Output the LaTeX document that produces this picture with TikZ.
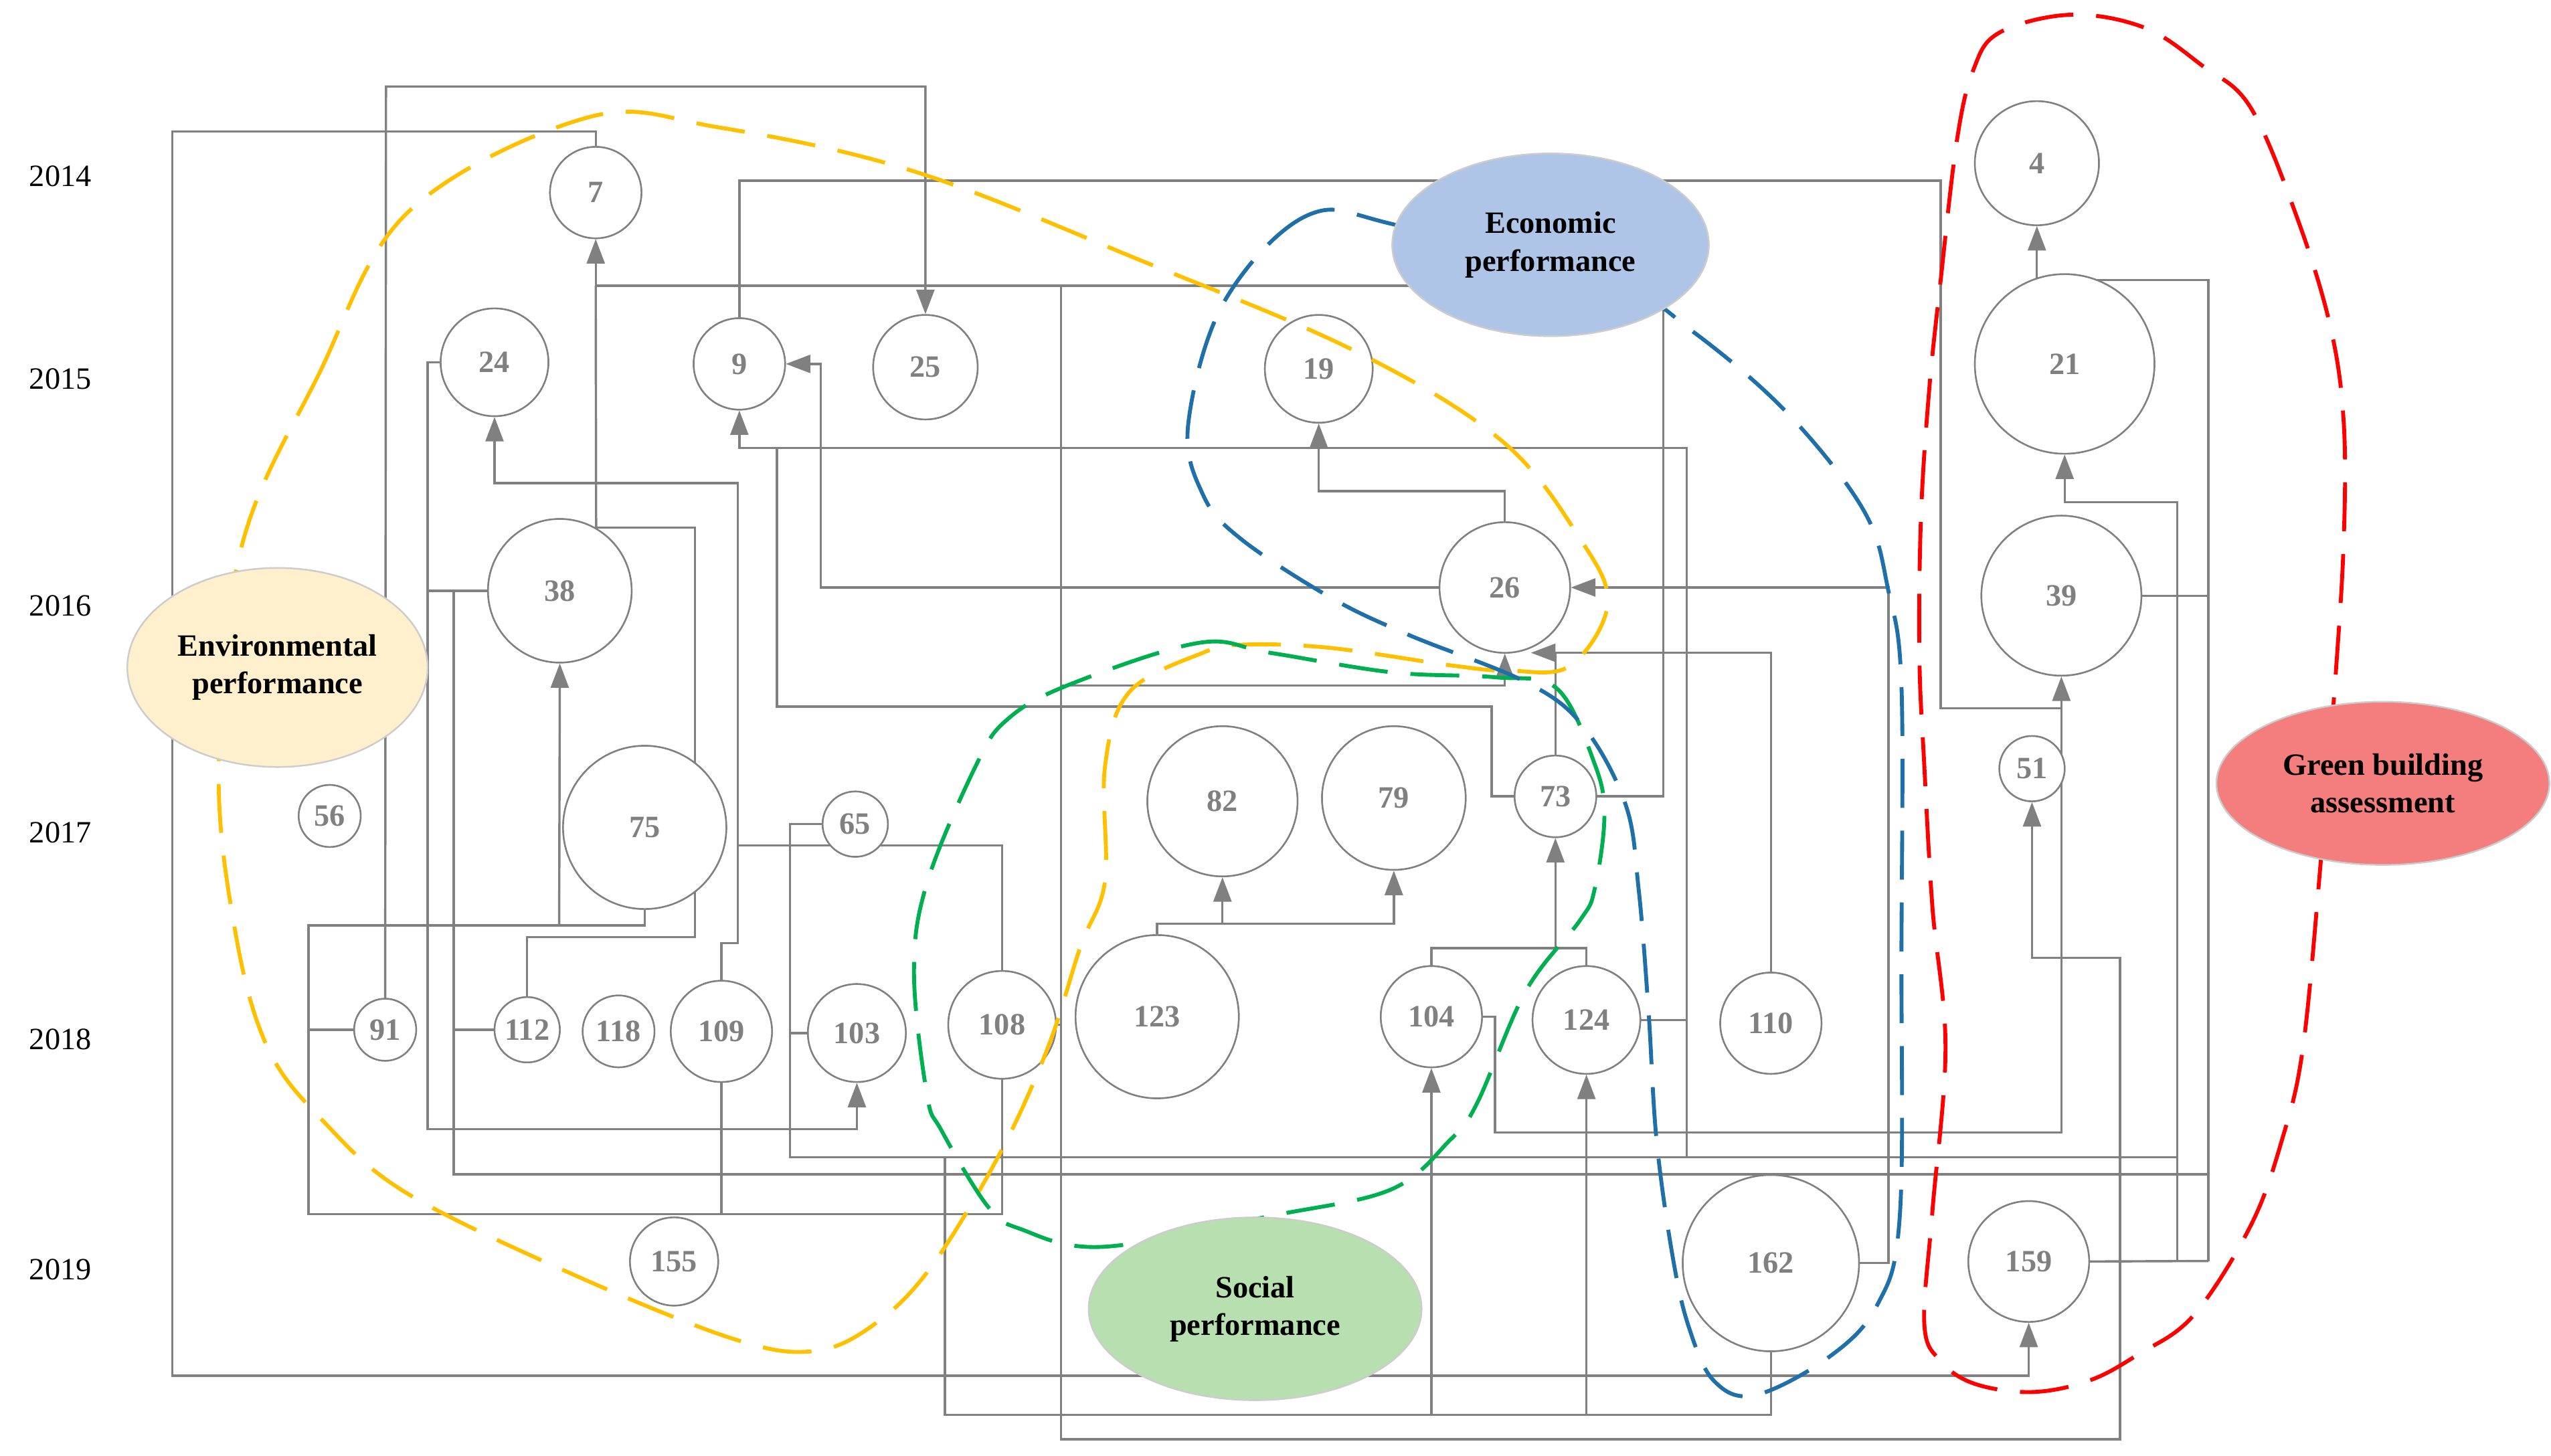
\documentclass[tikz,border=0pt]{standalone}
\usepackage{fontspec}
\setmainfont{Liberation Serif}
\usetikzlibrary{arrows.meta,shapes.geometric}
\definecolor{lg}{HTML}{808080}
\definecolor{yel}{HTML}{FFC000}
\definecolor{grn}{HTML}{00B050}
\definecolor{blu}{HTML}{1F6FA8}
\definecolor{rd}{HTML}{FF0000}
\begin{document}
\begin{tikzpicture}[x=1pt,y=-1pt,
  ln/.style={draw=lg,line width=1.4pt},
  arr/.style={-{Triangle[length=15pt,width=11pt]}},
  nd/.style={ellipse,draw=lg,line width=1pt,fill=white,inner sep=0pt,text=lg,font=\fontsize{19}{19}\selectfont\bfseries},
  yr/.style={font=\fontsize{19}{19}\selectfont},
  cat/.style={ellipse,draw=black!20,line width=1pt,inner sep=0pt,align=center,font=\fontsize{19}{23}\selectfont\bfseries},
  dsh/.style={line width=2.4pt,dash pattern=on 30pt off 14pt}]
\useasboundingbox (0,0) rectangle (1563,892);
% years
\node[yr] (y14) at (37,108) {2014};
\node[yr] (y15) at (37,232) {2015};
\node[yr] (y16) at (37,371) {2016};
\node[yr] (y17) at (37,510) {2017};
\node[yr] (y18) at (37,637) {2018};
\node[yr] (y19) at (37,778) {2019};
% nodes
\def\N#1#2#3#4{\node[nd,minimum width=#4*2pt,minimum height=#4*2pt] (n#1) at (#2,#3) {#1};}
\N{7}{365}{118}{28}
\N{24}{303}{222}{33}
\N{9}{453}{223}{28}
\N{25}{567}{225}{32}
\N{19}{808}{226}{33}
\N{4}{1248}{100}{38}
\N{21}{1265}{223}{55}
\N{38}{343}{362}{44}
\N{26}{922}{360}{40}
\N{39}{1263}{365}{49}
\N{75}{395}{507}{50}
\N{65}{524}{505}{20}
\N{56}{202}{500}{19}
\N{82}{749}{491}{46}
\N{79}{854}{489}{44}
\N{73}{953}{488}{25}
\N{51}{1245}{471}{20}
\N{91}{236}{631}{19}
\N{112}{323}{631}{20}
\N{118}{379}{632}{22}
\N{109}{442}{632}{31}
\N{103}{525}{633}{30}
\N{108}{614}{628}{33}
\N{123}{709}{623}{50}
\N{104}{877}{623}{31}
\N{124}{972}{625}{33}
\N{110}{1085}{627}{31}
\N{155}{413}{773}{27}
\N{162}{1085}{774}{54}
\N{159}{1243}{773}{37}
% connectors
\begin{scope}[on background layer/.style={}]
\draw[ln,arr] (n91.north) -- (236.5,53) -| (n25.north);
\draw[ln,arr] (n7.north) |- (105.6,80.5) |- (1243,843) -- (n159.south);
\draw[ln,arr] (n9.north) |- (1189,110.7) |- (1263,434) -- (n39.south);
\draw[ln,arr] (n73.east) -| (1019,175) -| (n7.south);
\draw[ln] (n38.60) -- (365,175);
\draw[ln] (n112.north) |- (425.8,574.3) |- (365,323.4);
\draw[ln,arr] (n26.north) |- (808,301) -- (n19.south);
\draw[ln,arr] (1033.5,709) |- (453,274.6) -- (n9.south);
\draw[ln] (n124.east) -- (1033.5,625);
\draw[ln,arr] (n65.west) -| (484,709) -| (1334,307.6) -| (n21.south);
\draw[ln] (n103.west) -- (484,633);
\draw[ln] (n73.west) -| (914,433) -| (476,274.6);
\draw[ln,arr] (n108.east) -| (650,420) -| (n26.south);
\draw[ln] (650,420) -- (650,175);
\draw[ln,arr] (650,626) |- (1299,882) |- (1245,587) -- (n51.south);
\draw[ln,arr] (n26.west) -| (503,223) -- (n9.east);
\draw[ln,arr] (n162.east) -| (1157,360) -- (n26.east);
\draw[ln,arr] (n110.north) |- (938,400);
\draw[ln] (n73.north) -- (953,400);
\draw[ln,arr] (1353,772.7) |- (1248,171.6) -- (n4.south);
\draw[ln] (n159.east) -- (1353,772.7);
\draw[ln] (1334,307.6) -- (1334,772.7);
\draw[ln] (n39.east) -- (1353,365);
\draw[ln] (n104.east) -| (916,694) -| (1263,434);
\draw[ln] (n38.west) -- (262,362) |- (n24.west);
\draw[ln,arr] (262,362) |- (525,692) -- (n103.south);
\draw[ln] (278,362) |- (1353,719.5);
\draw[ln] (n112.west) -- (278,631);
\draw[ln] (n75.south) |- (189,567) |- (614,744) -- (n108.south);
\draw[ln,arr] (342.6,567) -- (n38.south);
\draw[ln] (n91.west) -- (189,631);
\draw[ln,arr] (n109.north) |- (452,578) -- (452,296) -| (n24.south);
\draw[ln] (n109.south) -- (442,744);
\draw[ln] (452,518) -| (n108.north);
\draw[ln,arr] (n123.north) |- (854,566) -- (n79.south);
\draw[ln,arr] (749,566) -- (n82.south);
\draw[ln] (n104.north) |- (972,581) -- (n124.north);
\draw[ln,arr] (953,581) -- (n73.south);
\draw[ln] (n162.south) |- (579,867) -- (579,709);
\draw[ln,arr] (877,867) -- (n104.south);
\draw[ln,arr] (972,867) -- (n124.south);
\end{scope}
% redraw nodes on top of connectors
\foreach \n/\x/\y/\r in {7/365/118/28,24/303/222/33,9/453/223/28,25/567/225/32,19/808/226/33,4/1248/100/38,21/1265/223/55,38/343/362/44,26/922/360/40,39/1263/365/49,75/395/507/50,65/524/505/20,56/202/500/19,82/749/491/46,79/854/489/44,73/953/488/25,51/1245/471/20,91/236/631/19,112/323/631/20,118/379/632/22,109/442/632/31,103/525/633/30,108/614/628/33,123/709/623/50,104/877/623/31,124/972/625/33,110/1085/627/31,155/413/773/27,162/1085/774/54,159/1243/773/37}
  \node[nd,minimum width=\r*2pt,minimum height=\r*2pt] at (\x,\y) {\n};
% dashed groups
\draw[dsh,yel] plot[smooth cycle,tension=0.6] coordinates {(148,335) (195,230) (250,130) (360,72) (440,78) (560,105) (700,160) (830,215) (920,270) (968,330) (985,370) (962,408) (925,411) (891,408) (815,397) (762,395) (737,400) (692,424) (677,470) (677,540) (662,580) (642,642) (612,708) (570,777) (535,812) (498,828) (448,820) (349,780) (249,731) (199,688) (164,642) (144,570) (134,469)};
\draw[dsh,grn] plot[smooth cycle,tension=0.6] coordinates {(654,420) (734,394) (778,400) (853,412) (916,415) (954,422) (977,468) (983,500) (977,545) (968,564) (935,607) (905,676) (888,699) (852,729) (779,745) (676,764) (625,753) (605,739) (577,693) (568,671) (560,596) (568,541) (598,469) (617,441)};
\draw[dsh,blu] plot[smooth cycle,tension=0.6] coordinates {(856,138) (801,132) (750,185) (728,260) (737,303) (760,330) (815,366) (863,389) (935,418) (970,445) (996,493) (1004,545) (1010,619) (1015,699) (1025,771) (1035,814) (1050,846) (1075,855) (1120,832) (1150,800) (1164,745) (1165,584) (1165,420) (1157,362) (1142,313) (1095,253) (1037,203) (990,175)};
\draw[dsh,rd] plot[smooth cycle,tension=0.6] coordinates {(1269,9) (1225,20) (1209,43) (1199,86) (1189,172) (1182,239) (1177,316) (1176,402) (1179,469) (1184,556) (1192,642) (1184,742) (1179,811) (1189,834) (1210,848) (1245,853) (1280,846) (1310,830) (1344,806) (1379,751) (1398,699) (1411,642) (1422,527) (1431,414) (1436,331) (1436,259) (1428,201) (1408,135) (1379,66) (1349,40) (1314,17)};
% categories
\node[cat,fill={rgb,255:red,174;green,197;blue,231},minimum width=194pt,minimum height=112pt] (eco) at (950,150) {Economic\\performance};
\node[cat,fill={rgb,255:red,254;green,240;blue,204},minimum width=184pt,minimum height=122pt] (env) at (170,409) {Environmental\\performance};
\node[cat,fill={rgb,255:red,184;green,223;blue,176},minimum width=204pt,minimum height=112pt] (soc) at (769,802) {Social\\performance};
\node[cat,fill={rgb,255:red,244;green,125;blue,125},minimum width=204pt,minimum height=100pt] (gba) at (1460,480) {Green building\\assessment};
\end{tikzpicture}
\end{document}
